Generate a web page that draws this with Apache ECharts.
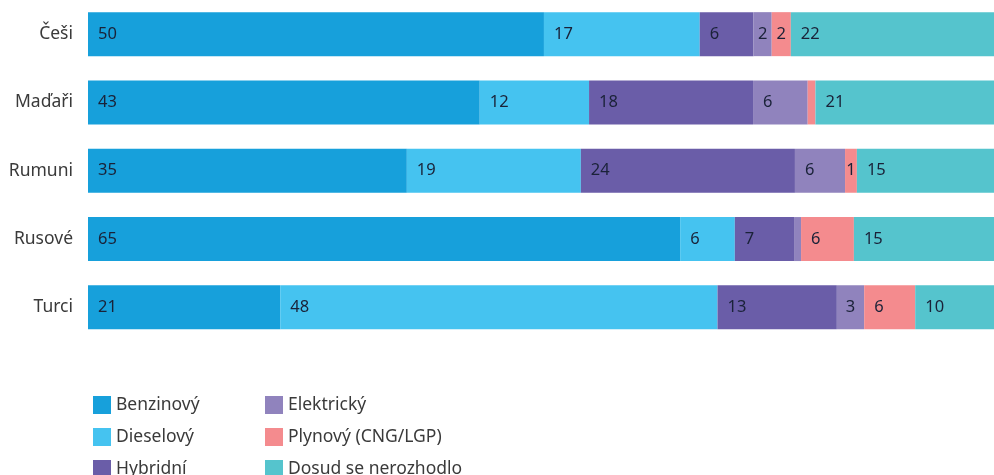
<!DOCTYPE html>
<html>
<head>
<meta charset="utf-8">
<script src="https://cdn.jsdelivr.net/npm/echarts@6/dist/echarts.min.js"></script>
<style>
html, body { margin: 0; padding: 0; background: #fff; }
#chart { width: 994px; height: 475px; }
</style>
</head>
<body>
<div id="chart"></div>
<script>
var categories = ['Češi', 'Maďaři', 'Rumuni', 'Rusové', 'Turci'];
var seriesNames = ['Benzinový', 'Dieselový', 'Hybridní', 'Elektrický', 'Plynový (CNG/LGP)', 'Dosud se nerozhodlo'];
var colors = ['#17a0db', '#45c3f0', '#6a5da8', '#9083bd', '#f48b8e', '#55c4cd'];

// values (percent)
var benzinovy  = [50.05, 43.0, 35.0, 65.0, 21.1];
var dieselovy  = [17.1, 12.0, 19.1, 6.0, 48.0];
var hybridni   = [5.9, 18.0, 23.5, 6.5, 13.1];
var elektricky = [2.0, 6.0, 5.5, 0.77, 3.0];
var plynovy    = [2.1, 0.85, 1.3, 5.8, 5.6];
var nerozhodlo = [22.4, 21.0, 15.2, 15.49, 10.0];

var allData = [benzinovy, dieselovy, hybridni, elektricky, plynovy, nerozhodlo];

var labelFont = { fontFamily: 'Noto Sans', fontSize: 16.5, color: '#1a2238' };

var series = seriesNames.map(function (name, s) {
  return {
    name: name,
    type: 'bar',
    stack: 'total',
    barWidth: 44,
    itemStyle: { color: colors[s] },
    data: allData[s].map(function (v) {
      var small = v < 4;
      return {
        value: v,
        label: {
          show: v >= 1,
          position: small ? 'inside' : 'insideLeft',
          distance: 10
        }
      };
    }),
    label: Object.assign({
      formatter: function (p) { return Math.round(p.value); }
    }, labelFont)
  };
});

// one legend per entry: two columns of three rows
var legends = seriesNames.map(function (name, i) {
  return {
    orient: 'vertical',
    left: i < 3 ? 88 : 260,
    top: 391 + (i % 3) * 32,
    itemWidth: 18,
    itemHeight: 18,
    icon: 'rect',
    data: [name],
    textStyle: { fontFamily: 'Noto Sans', fontSize: 17.5, color: '#3a3a3a' }
  };
});

var chart = echarts.init(document.getElementById('chart'));
chart.setOption({
  animation: false,
  color: colors,
  legend: legends,
  grid: { left: 88, right: 0, top: 0, height: 341.5, containLabel: false },
  xAxis: {
    type: 'value',
    min: 0,
    max: 99.45,
    show: false
  },
  yAxis: {
    type: 'category',
    inverse: true,
    data: categories,
    axisLine: { show: false },
    axisTick: { show: false },
    axisLabel: { margin: 15, fontFamily: 'Noto Sans', fontSize: 17.5, color: '#3a3a3a' }
  },
  series: series
});
</script>
</body>
</html>
